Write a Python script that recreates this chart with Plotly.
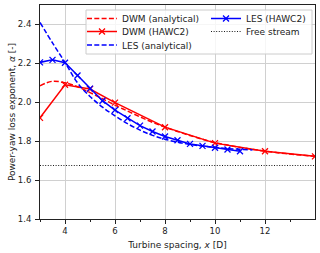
import plotly.graph_objects as go

# ---------------- data ----------------
x_dwm_an = [3.0, 3.5, 4.0, 4.5, 5.0, 5.5, 6.0, 6.5, 7.0, 7.5, 8.0, 8.5, 9.0, 9.5,
            10.0, 10.5, 11.0, 11.5, 12.0, 12.5, 13.0, 13.5, 14.0]
y_dwm_an = [2.085, 2.108, 2.100, 2.080, 2.050, 2.018, 1.985, 1.955, 1.925, 1.897,
            1.872, 1.850, 1.829, 1.810, 1.793, 1.780, 1.768, 1.758, 1.749, 1.741,
            1.734, 1.728, 1.722]

x_dwm_h2 = [3, 4, 5, 6, 8, 10, 12, 14]
y_dwm_h2 = [1.920, 2.090, 2.068, 1.998, 1.872, 1.790, 1.748, 1.722]

x_les_an = [3.0, 3.5, 4.0, 4.5, 5.0, 5.5, 6.0, 6.5, 7.0, 7.5, 8.0, 8.5, 9.0, 9.5,
            10.0, 10.5, 11.0, 11.5]
y_les_an = [2.410, 2.305, 2.205, 2.100, 2.030, 1.975, 1.930, 1.890, 1.857, 1.830,
            1.810, 1.795, 1.783, 1.775, 1.768, 1.762, 1.758, 1.755]

x_les_h2 = [3.0, 3.5, 4.0, 4.5, 5.0, 5.5, 6.0, 6.5, 7.0, 7.5, 8.0, 8.5, 9.0, 9.5,
            10.0, 10.5, 11.0]
y_les_h2 = [2.205, 2.218, 2.203, 2.138, 2.070, 2.008, 1.960, 1.918, 1.880, 1.850,
            1.824, 1.805, 1.786, 1.776, 1.766, 1.757, 1.748]

x_free = [3, 14]
y_free = [1.675, 1.675]

x_ticks = [4, 6, 8, 10, 12]
x_minor = [3, 5, 7, 9, 11, 13]
y_ticks = [1.4, 1.6, 1.8, 2.0, 2.2, 2.4]

RED = "#ff0000"
BLUE = "#0000ff"
DASH = "5px,2.3px"
FONT = "DejaVu Sans"

fig = go.Figure()
fig.add_trace(go.Scatter(x=x_dwm_an, y=y_dwm_an, mode="lines", name="DWM (analytical)",
                         line=dict(color=RED, width=1.5, dash=DASH, shape="spline"),
                         legend="legend"))
fig.add_trace(go.Scatter(x=x_dwm_h2, y=y_dwm_h2, mode="lines+markers", name="DWM (HAWC2)",
                         line=dict(color=RED, width=1.5),
                         marker=dict(symbol="x-thin", size=6, color=RED,
                                     line=dict(color=RED, width=1.3)),
                         legend="legend2"))
fig.add_trace(go.Scatter(x=x_les_an, y=y_les_an, mode="lines", name="LES (analytical)",
                         line=dict(color=BLUE, width=1.5, dash=DASH, shape="spline"),
                         legend="legend3"))
fig.add_trace(go.Scatter(x=x_les_h2, y=y_les_h2, mode="lines+markers", name="LES (HAWC2)",
                         line=dict(color=BLUE, width=1.5),
                         marker=dict(symbol="x-thin", size=6, color=BLUE,
                                     line=dict(color=BLUE, width=1.3)),
                         legend="legend4"))
fig.add_trace(go.Scatter(x=x_free, y=y_free, mode="lines", name="Free stream",
                         line=dict(color="black", width=0.9, dash="1px,1.6px"),
                         legend="legend5"))

L, R, T, B = 40, 5, 5, 34
W, H = 320, 253
pw, ph = W - L - R, H - T - B


def px(xp):
    return (xp - L) / pw


def py(yp):
    return (H - B - yp) / ph


leg_common = dict(font=dict(family=FONT, size=9, color="#222"),
                  bgcolor="rgba(0,0,0,0)", borderwidth=0,
                  xanchor="left", yanchor="middle", tracegroupgap=0)
col1 = px(122 - 40)
col2 = px(246 - 40)
rows = [py(18.5), py(31.5), py(45)]

fig.update_layout(
    template="none",
    width=W, height=H,
    margin=dict(l=L, r=R, t=T, b=B, autoexpand=False),
    paper_bgcolor="white", plot_bgcolor="white",
    font=dict(family=FONT, size=9, color="#222"),
    showlegend=True,
    legend=dict(x=col1, y=rows[0], **leg_common),
    legend2=dict(x=col1, y=rows[1], **leg_common),
    legend3=dict(x=col1, y=rows[2], **leg_common),
    legend4=dict(x=col2, y=rows[0], **leg_common),
    legend5=dict(x=col2, y=rows[1], **leg_common),
    shapes=[dict(type="rect", xref="paper", yref="paper",
                 x0=px(86), x1=px(312), y0=py(54), y1=py(10),
                 fillcolor="rgba(255,255,255,0.8)",
                 line=dict(color="#cccccc", width=1), layer="above")],
)

fig.update_xaxes(
    range=[3, 14], tickvals=x_ticks, ticktext=[str(v) for v in x_ticks],
    automargin=False,
    ticks="outside", ticklen=4, tickwidth=1, tickcolor="#222",
    tickfont=dict(family=FONT, size=8.5, color="#222"),
    showgrid=True, gridcolor="#d0d0d0", gridwidth=1,
    showline=True, linecolor="#222", linewidth=1, mirror=True,
    zeroline=False,
    minor=dict(tickvals=x_minor, ticks="outside", ticklen=2, tickcolor="#222",
               showgrid=False),
    title=dict(text="Turbine spacing, <i>x</i> [D]", standoff=6,
               font=dict(family=FONT, size=9, color="#222")),
)
fig.update_yaxes(
    range=[1.4, 2.5], tickvals=y_ticks, ticktext=[f"{v:.1f}" for v in y_ticks],
    automargin=False, ticklabelstandoff=2,
    ticks="outside", ticklen=4, tickwidth=1, tickcolor="#222",
    tickfont=dict(family=FONT, size=8.5, color="#222"),
    showgrid=True, gridcolor="#d0d0d0", gridwidth=1,
    showline=True, linecolor="#222", linewidth=1, mirror=True,
    zeroline=False,
    title=dict(text="Power-yaw loss exponent, <i>α</i> [-]", standoff=0,
               font=dict(family=FONT, size=9, color="#222")),
)

fig.write_html("out.html", config={"displayModeBar": False},
               post_script="document.body.style.margin='0';document.body.style.overflow='hidden';")
